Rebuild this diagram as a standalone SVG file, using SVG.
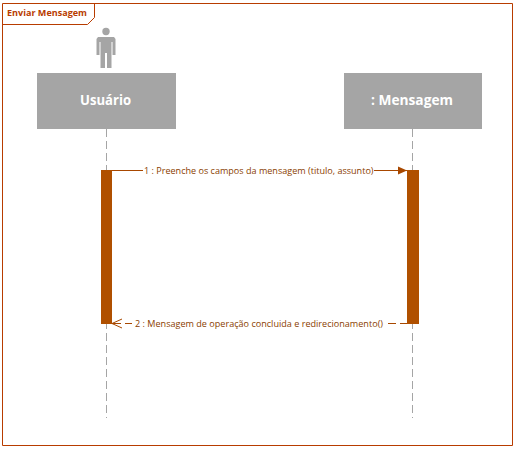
<svg xmlns="http://www.w3.org/2000/svg" width="513" height="450" viewBox="0 0 513 450">
<style>
text{font-family:"Open Sans","Noto Sans","Liberation Sans",sans-serif}
.box{fill:#a5a5a5}
.name{fill:#fff;font-size:13.500px;font-weight:700}
.life{stroke:#a5a5a5;stroke-width:1;stroke-dasharray:8 4;fill:none}
.act{fill:#b05000}
.msg{stroke:#a84800;stroke-width:1;fill:none}
.lbl{fill:#8a4000;font-size:9.200px}
</style>
<defs>
<marker id="solid" markerUnits="userSpaceOnUse" markerWidth="10" markerHeight="10" refX="9" refY="5" orient="auto"><path d="M0 1L9 5L0 9Z" fill="#a84800"/></marker>
<marker id="open" markerUnits="userSpaceOnUse" markerWidth="12" markerHeight="12" refX="1" refY="5.500" orient="auto"><path d="M11 1L1 5.500L11 10" fill="none" stroke="#a84800"/></marker>
</defs>
<g id="frame">
<path d="M2.500 3.500H512.500V445.500H2.500Z" fill="#fff" stroke="#b83c00" stroke-width="1"/>
<path d="M2.500 24.500H87.500L94.500 17.500V3.500" fill="none" stroke="#b83c00" stroke-width="1"/>
<text x="7" y="16" font-size="9.500px" font-weight="700" fill="#b83c00" textLength="80" lengthAdjust="spacingAndGlyphs">Enviar Mensagem</text>
</g>
<g id="usuario">
<path class="life" d="M106.500 129V418"/>
<circle cx="106" cy="31.500" r="3.700" fill="#a5a5a5"/>
<path d="M98 37H114L115.500 39V55H112.500V42H111.500V68H107V53H105V68H100.500V42H99.500V55H96.500V39Z" fill="#a5a5a5"/>
<rect class="box" x="37" y="73" width="139" height="56"/>
<text class="name" x="80" y="105" textLength="51" lengthAdjust="spacingAndGlyphs">Usuário</text>
<rect class="act" x="101" y="170" width="11" height="154"/>
</g>
<g id="mensagem">
<path class="life" d="M412.500 129V418"/>
<rect class="box" x="344" y="73" width="138" height="56"/>
<text class="name" x="371" y="105" textLength="82" lengthAdjust="spacingAndGlyphs">: Mensagem</text>
<rect class="act" x="407" y="170" width="12" height="154"/>
</g>
<g id="connectors">
<path class="msg" d="M112 170.500H143"/>
<path class="msg" d="M374 170.500H407" marker-end="url(#solid)"/>
<path class="msg" d="M112 323.500H121" marker-start="url(#open)"/>
<path class="msg" d="M125 323.500H132M388 323.500H396M400 323.500H407"/>
<text class="lbl" x="144" y="174" textLength="229.500" lengthAdjust="spacingAndGlyphs">1 : Preenche os campos da mensagem (titulo, assunto)</text>
<text class="lbl" x="135" y="327" textLength="248" lengthAdjust="spacingAndGlyphs">2 : Mensagem de operação concluida e redirecionamento()</text>
</g>
</svg>
